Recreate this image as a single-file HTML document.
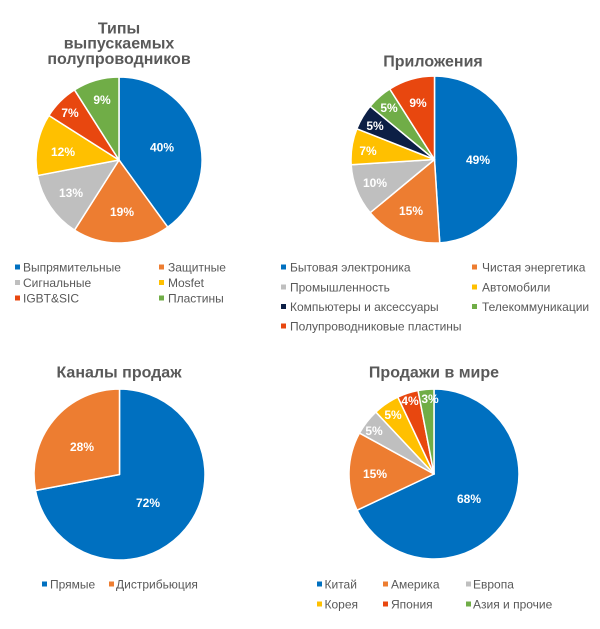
<!DOCTYPE html>
<html><head><meta charset="utf-8">
<style>
html,body{margin:0;padding:0;background:#fff;}
svg{display:block;}
.t{font-family:"Liberation Sans",Arial,sans-serif;font-weight:bold;fill:#595959;font-size:16px;text-anchor:middle;}
.l{font-family:"Liberation Sans",Arial,sans-serif;font-weight:bold;fill:#fff;font-size:12px;text-anchor:middle;dominant-baseline:central;}
.g{font-family:"Liberation Sans",Arial,sans-serif;fill:#595959;font-size:12px;dominant-baseline:central;}
path{stroke:#fff;stroke-width:1.5;stroke-linejoin:round;}
</style></head>
<body>
<svg width="600" height="629" viewBox="0 0 600 629" xmlns="http://www.w3.org/2000/svg">
<!-- Chart 1 -->
<text class="t" x="119" y="33.5">Типы</text>
<text class="t" x="119" y="48.5">выпускаемых</text>
<text class="t" x="119" y="64">полупроводников</text>
<path d="M119,160 L119,77 A83,83 0 0 1 167.79,227.15 Z" fill="#0070C0"/>
<path d="M119,160 L167.79,227.15 A83,83 0 0 1 74.53,230.08 Z" fill="#ED7D31"/>
<path d="M119,160 L74.53,230.08 A83,83 0 0 1 37.47,175.55 Z" fill="#BFBFBF"/>
<path d="M119,160 L37.47,175.55 A83,83 0 0 1 48.92,115.53 Z" fill="#FFC000"/>
<path d="M119,160 L48.92,115.53 A83,83 0 0 1 74.53,89.92 Z" fill="#E8470F"/>
<path d="M119,160 L74.53,89.92 A83,83 0 0 1 119,77 Z" fill="#70AD47"/>
<text class="l" x="162" y="147.5">40%</text>
<text class="l" x="122" y="212">19%</text>
<text class="l" x="71" y="193">13%</text>
<text class="l" x="63" y="152">12%</text>
<text class="l" x="70" y="113">7%</text>
<text class="l" x="102" y="100">9%</text>
<rect x="15" y="264.5" width="5" height="5" fill="#0070C0"/><text class="g" x="23" y="267.5">Выпрямительные</text>
<rect x="159" y="264.5" width="5" height="5" fill="#ED7D31"/><text class="g" x="168" y="267.5">Защитные</text>
<rect x="15" y="280" width="5" height="5" fill="#BFBFBF"/><text class="g" x="23" y="283">Сигнальные</text>
<rect x="159" y="280" width="5" height="5" fill="#FFC000"/><text class="g" x="168" y="283">Mosfet</text>
<rect x="15" y="295.5" width="5" height="5" fill="#E8470F"/><text class="g" x="23" y="298.5">IGBT&amp;SIC</text>
<rect x="159" y="295.5" width="5" height="5" fill="#70AD47"/><text class="g" x="168" y="298.5">Пластины</text>

<!-- Chart 2 -->
<text class="t" x="433" y="66.5">Приложения</text>
<path d="M434.5,159.5 L434.5,76 A83.5,83.5 0 0 1 439.74,242.83 Z" fill="#0070C0"/>
<path d="M434.5,159.5 L439.74,242.83 A83.5,83.5 0 0 1 370.16,212.72 Z" fill="#ED7D31"/>
<path d="M434.5,159.5 L370.16,212.72 A83.5,83.5 0 0 1 351.17,164.74 Z" fill="#BFBFBF"/>
<path d="M434.5,159.5 L351.17,164.74 A83.5,83.5 0 0 1 356.86,128.76 Z" fill="#FFC000"/>
<path d="M434.5,159.5 L356.86,128.76 A83.5,83.5 0 0 1 370.16,106.28 Z" fill="#0C1F45"/>
<path d="M434.5,159.5 L370.16,106.28 A83.5,83.5 0 0 1 389.76,89.0 Z" fill="#70AD47"/>
<path d="M434.5,159.5 L389.76,89.0 A83.5,83.5 0 0 1 434.5,76 Z" fill="#E8470F"/>
<text class="l" x="478" y="160">49%</text>
<text class="l" x="411" y="211">15%</text>
<text class="l" x="375" y="183">10%</text>
<text class="l" x="368" y="151">7%</text>
<text class="l" x="375" y="126">5%</text>
<text class="l" x="389" y="108">5%</text>
<text class="l" x="418" y="103">9%</text>
<rect x="281" y="264.5" width="5" height="5" fill="#0070C0"/><text class="g" x="290" y="267.5">Бытовая электроника</text>
<rect x="472" y="264.5" width="5" height="5" fill="#ED7D31"/><text class="g" x="482" y="267.5">Чистая энергетика</text>
<rect x="281" y="284.5" width="5" height="5" fill="#BFBFBF"/><text class="g" x="290" y="287.5">Промышленность</text>
<rect x="472" y="284.5" width="5" height="5" fill="#FFC000"/><text class="g" x="482" y="287.5">Автомобили</text>
<rect x="281" y="304" width="5" height="5" fill="#0C1F45"/><text class="g" x="290" y="307">Компьютеры и аксессуары</text>
<rect x="472" y="304" width="5" height="5" fill="#70AD47"/><text class="g" x="482" y="307">Телекоммуникации</text>
<rect x="281" y="323.5" width="5" height="5" fill="#E8470F"/><text class="g" x="290" y="326.5">Полупроводниковые пластины</text>

<!-- Chart 3 -->
<text class="t" x="119" y="377.5">Каналы продаж</text>
<path d="M119.5,474.5 L119.5,389 A85.5,85.5 0 1 1 35.51,490.52 Z" fill="#0070C0"/>
<path d="M119.5,474.5 L35.51,490.52 A85.5,85.5 0 0 1 119.5,389 Z" fill="#ED7D31"/>
<text class="l" x="148" y="503">72%</text>
<text class="l" x="82" y="447">28%</text>
<rect x="42" y="581.5" width="5" height="5" fill="#0070C0"/><text class="g" x="50" y="584.5">Прямые</text>
<rect x="109" y="581.5" width="5" height="5" fill="#ED7D31"/><text class="g" x="116" y="584.5">Дистрибьюция</text>

<!-- Chart 4 -->
<text class="t" x="434" y="377.5">Продажи в мире</text>
<path d="M434,474 L434,389 A85,85 0 1 1 357.09,510.19 Z" fill="#0070C0"/>
<path d="M434,474 L357.09,510.19 A85,85 0 0 1 359.51,433.05 Z" fill="#ED7D31"/>
<path d="M434,474 L359.51,433.05 A85,85 0 0 1 375.82,412.03 Z" fill="#BFBFBF"/>
<path d="M434,474 L375.82,412.03 A85,85 0 0 1 397.81,397.09 Z" fill="#FFC000"/>
<path d="M434,474 L397.81,397.09 A85,85 0 0 1 418.07,390.51 Z" fill="#E8470F"/>
<path d="M434,474 L418.07,390.51 A85,85 0 0 1 434,389 Z" fill="#70AD47"/>
<text class="l" x="469" y="499">68%</text>
<text class="l" x="375" y="474">15%</text>
<text class="l" x="374" y="431">5%</text>
<text class="l" x="393" y="415">5%</text>
<text class="l" x="410" y="401">4%</text>
<text class="l" x="430" y="399">3%</text>
<rect x="317" y="581.5" width="5" height="5" fill="#0070C0"/><text class="g" x="324.5" y="584.5">Китай</text>
<rect x="383" y="581.5" width="5" height="5" fill="#ED7D31"/><text class="g" x="391" y="584.5">Америка</text>
<rect x="466" y="581.5" width="5" height="5" fill="#BFBFBF"/><text class="g" x="473" y="584.5">Европа</text>
<rect x="317" y="601.5" width="5" height="5" fill="#FFC000"/><text class="g" x="324.5" y="604.5">Корея</text>
<rect x="383" y="601.5" width="5" height="5" fill="#E8470F"/><text class="g" x="391" y="604.5">Япония</text>
<rect x="466" y="601.5" width="5" height="5" fill="#70AD47"/><text class="g" x="473" y="604.5">Азия и прочие</text>
</svg>
</body></html>
